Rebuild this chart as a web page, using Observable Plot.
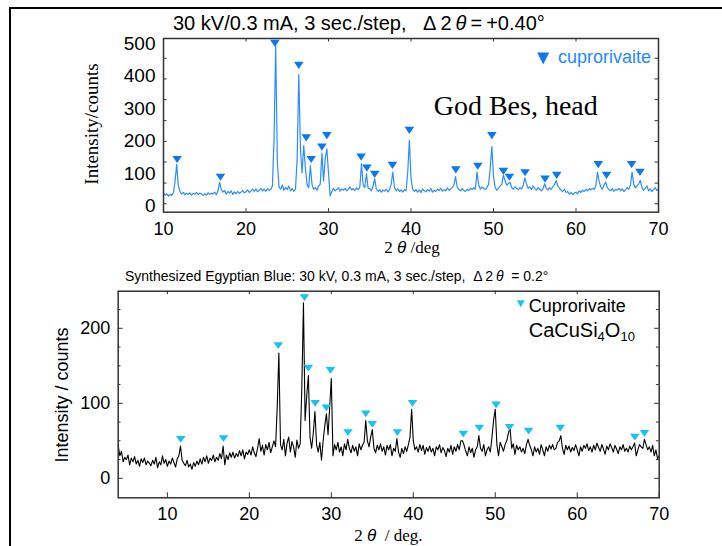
<!DOCTYPE html>
<html><head><meta charset="utf-8">
<script src="https://cdn.jsdelivr.net/npm/d3@7"></script>
<script src="https://cdn.jsdelivr.net/npm/@observablehq/plot@0.6"></script>
<style>
html,body{margin:0;padding:0;background:#fff;}
#wrap{position:relative;width:722px;height:546px;overflow:hidden;font-family:"Liberation Sans",Arial,sans-serif;color:#000;}
.t{position:absolute;white-space:nowrap;line-height:1;}
.serif{font-family:"Liberation Serif","Times New Roman",serif;}
.rot{transform:translate(-50%,-50%) rotate(-90deg);}
.cx{transform:translateX(-50%);}
#p1,#p2{position:absolute;left:0;}
#p1{top:0}#p2{top:262px}
</style></head><body>
<div id="wrap">
 <div id="p1"></div><div id="p2"></div>
 <div style="position:absolute;left:9px;top:6.5px;width:720px;height:545px;border-left:2.5px solid #000;border-top:2.5px solid #000;"></div>
 <div class="t" style="left:173px;top:13.1px;font-size:20px">30 kV/0.3 mA, 3 sec./step,&nbsp;&nbsp; Δ&thinsp;2&thinsp;<i>θ</i>&thinsp;=&thinsp;+0.40°</div>
 <div class="t serif rot" style="left:90.7px;top:123.5px;font-size:19px">Intensity/counts</div>
 <div class="t" style="right:71px;top:48.1px;font-size:18px;color:#1f88ff">cuprorivaite</div>
 <div class="t serif" style="left:433.7px;top:91.5px;font-size:28px">God Bes, head</div>
 <div class="t serif cx" style="left:412px;top:241.1px;line-height:0.8;font-size:17px">2 <i style="font-family:'Liberation Sans',Arial,sans-serif">θ</i> /deg</div>
 <div class="t" style="left:125px;top:268.9px;font-size:14px">Synthesized Egyptian Blue: 30 kV, 0.3 mA, 3 sec./step,&nbsp; Δ&thinsp;2&thinsp;<i>θ</i> &nbsp;= 0.2°</div>
 <div class="t rot" style="left:61.5px;top:395px;font-size:18px">Intensity / counts</div>
 <div class="t" style="left:528.7px;top:297.1px;font-size:18px">Cuprorivaite</div>
 <div class="t" style="left:528.7px;top:319.8px;font-size:20px">CaCuSi<span style="font-size:13px;vertical-align:-4px">4</span>O<span style="font-size:13px;vertical-align:-4px">10</span></div>
 <div class="t serif cx" style="left:388.5px;top:528.5px;line-height:0.8;font-size:17px">2 <i style="font-family:'Liberation Sans',Arial,sans-serif">θ</i> &nbsp;/ deg.</div>
</div>
<script>
// ---- data: scan grid ----
const step = 0.2;
const topStart = 10;
const botStart = 4;

// top panel: God Bes, head (counts at 10.0, 10.2, ... 70.0)
const topCounts = [
 33,27,31,24,29, 26,34,70,122,55, 38,30,35,28,33, 29,34,27,32,30, 35,28,33,30,26,
 31,27,34,29,33, 30,36,28,40,67, 45,36,41,30,38, 33,40,29,37,31, 38,32,36,41,34,
 37,43,35,40,45, 38,46,37,42,48, 40,45,38,47,42, 44,55,200,488,130, 52,45,58,42,50,
 44,55,40,47,38, 45,140,400,170,95, 180,110,60,50,118, 60,45,50,42,55, 60,157,70,140,170,
 95,25,38,48,40, 44,50,39,46,42, 48,40,45,52,43, 47,41,49,44,52, 124,58,50,93,48,
 47,40,55,77,45, 38,44,36,42,39, 45,37,44,60,98, 50,40,46,38,43, 36,44,40,95,196,
 80,45,38,44,36, 42,35,46,40,37, 44,39,47,36,42, 38,45,41,48,39, 44,40,49,42,46,
 50,58,84,52,44, 40,47,42,38,45, 41,48,44,50,45, 98,60,45,52,48, 44,50,60,110,177,
 85,50,42,48,55, 60,88,72,58,62, 67,50,45,52,48, 44,50,46,58,80, 62,48,52,44,55,
 48,42,50,45,40, 46,62,48,42,50, 45,52,60,72,55, 48,42,38,45,35, 38,30,35,28,33,
 36,31,40,35,42, 38,45,40,47,43, 48,44,55,98,70, 52,45,58,67,50, 44,40,47,38,45,
 42,48,40,46,38, 44,50,45,58,98, 60,50,55,62,72, 50,42,48,55,40, 46,38,44,50,41,
 45
];
const topPeakTheta = [11.65,16.9,23.5,26.4,27.3,27.9,29.2,29.8,33.95,34.65,35.6,37.75,39.8,45.43,48.1,49.8,51.2,51.93,53.83,56.25,57.66,62.7,63.7,66.74,67.75];
const topPeakMark  = [137,82,496,428,204,137,175,211,144,110,91,119,227,105,116,211,100,82,96,76,88,121,88,121,97];

// bottom panel: synthesized Egyptian Blue (counts at 4.0, 4.2, ... 70.0)
const botCounts = [
 44,30,36,22,28, 25,31,18,27,22, 29,19,24,16,26, 21,27,18,23,20, 17,24,19,28,14,
 22,18,30,20,25, 16,23,19,27,21, 15,26,30,43,24, 20,17,24,15,19, 12,21,16,23,18,
 26,19,28,22,30, 20,27,24,31,22, 28,24,33,26,43, 18,31,25,34,28, 35,27,33,29,37,
 30,38,26,35,32, 38,31,42,34,29, 40,53,36,44,31, 45,38,48,34,42, 50,42,95,167,45,
 38,52,30,47,55, 35,49,42,28,51, 40,46,120,234,77, 110,137,55,40,60, 89,45,35,48,24,
 50,70,86,58,95, 133,30,45,38,48, 35,42,30,46,38, 52,40,34,44,36, 42,30,46,38,44,
 48,77,50,42,55, 65,40,34,44,38, 46,36,42,31,44, 38,45,30,40,36, 53,35,28,40,33,
 42,36,45,55,92, 50,38,42,35,45, 37,44,32,41,36, 43,35,40,30,42, 38,45,34,41,37,
 29,40,35,44,32, 42,36,45,38,50, 50,44,36,30,42, 34,40,28,38,42, 57,40,36,45,30,
 38,42,35,55,78, 92,45,30,48,42, 36,45,50,60,68, 40,46,32,44,38, 42,35,40,33,45,
 52,44,38,30,42, 35,40,32,45,38, 30,42,36,44,39, 45,38,40,48,50, 57,40,32,44,38,
 43,35,41,37,45, 38,30,42,36,44, 40,46,37,42,35, 44,38,47,41,36, 45,39,32,43,38,
 46,41,35,44,39, 33,42,38,45,36, 40,35,43,38,42, 47,30,38,45,42, 40,52,45,38,42,
 35,44,30,38,26, 30
];
const botPeakTheta = [11.63,16.85,23.53,26.72,27.2,28.03,29.4,29.9,32.03,34.2,35.0,38.06,39.9,46.1,48.06,50.1,51.74,54.06,57.93,67.03,68.2];
const botPeakMark  = [52,53,177,241,147,100,94,144,61,86,72,61,100,59,67,98,68,63,67,55,60];

// ticks
const topXTicks = [10,20,30,40,50,60,70];
const topYLabels = [0,100,200,300,400,500];
const topYTickMarks = [0,64,129,193,257,322,386,450];
const botXTicks = [10,20,30,40,50,60,70];
const botYLabels = [0,100,200];
const botYMinor = [25,50,75,125,150,175,225];

// ---- build ----
const topData = topCounts.map((c,i)=>({theta: topStart + i*step, counts: c}));
const botData = botCounts.map((c,i)=>({theta: botStart + i*step, counts: c}));
const topPeaks = topPeakTheta.map((t,i)=>({theta:t, mark:topPeakMark[i]}));
const botPeaks = botPeakTheta.map((t,i)=>({theta:t, mark:botPeakMark[i]}));

function triDown(hw, hh){
  return {draw(ctx){ ctx.moveTo(-hw,-hh); ctx.lineTo(hw,-hh); ctx.lineTo(0,hh); ctx.closePath(); }};
}
const sans = '"Liberation Sans", Arial, sans-serif';
const W = 722;
const axisColor = "#333";

// top plot
const H1=262, mt1=38, mb1=50.3, ml1=163, mr1=64;
const ih1=H1-mt1-mb1, iw1=W-ml1-mr1;
const lineBlue="#2a8dff", markBlue="#0b78f0";
const p1 = Plot.plot({
  width:W, height:H1, marginTop:mt1, marginBottom:mb1, marginLeft:ml1, marginRight:mr1,
  style:{fontFamily:sans, fontSize:"18px", background:"transparent", overflow:"visible", color:"#000"},
  x:{domain:[10,70]}, y:{domain:[-26,511]},
  marks:[
    Plot.line(topData,{x:"theta",y:"counts",stroke:lineBlue,strokeWidth:1.2}),
    Plot.dot(topPeaks,{x:"theta",y:"mark",symbol:triDown(4.8,3.6),r:1,fill:markBlue,stroke:"none"}),
    Plot.tickX(topXTicks,{insetTop:ih1-3.5,stroke:axisColor}),
    Plot.tickX(topXTicks,{insetBottom:ih1-3.5,stroke:axisColor}),
    Plot.tickY(topYTickMarks,{insetRight:iw1-3.5,stroke:axisColor}),
    Plot.tickY(topYTickMarks,{insetLeft:iw1-3.5,stroke:axisColor}),
    Plot.frame({stroke:axisColor,strokeWidth:1.5}),
    Plot.axisX(topXTicks,{tickSize:0,tickPadding:10,fontSize:18,label:null}),
    Plot.axisY(topYLabels,{tickSize:0,tickPadding:8,fontSize:19,dy:2,label:null}),
    Plot.dot([0],{x:null,y:null,frameAnchor:"top-right",dx:-115.3,dy:20,symbol:triDown(6,6),r:1,fill:markBlue,stroke:"none"})
  ]
});
document.getElementById("p1").appendChild(p1);

// bottom plot
const H2=284, mt2=28.7, mb2=48.7, ml2=117.7, mr2=63.3;
const ih2=H2-mt2-mb2, iw2=W-ml2-mr2;
const cyan="#1ac2f2";
const p2 = Plot.plot({
  width:W, height:H2, marginTop:mt2, marginBottom:mb2, marginLeft:ml2, marginRight:mr2,
  style:{fontFamily:sans, fontSize:"18px", background:"transparent", overflow:"visible", color:"#000"},
  x:{domain:[4,70]}, y:{domain:[-26,249.5]},
  marks:[
    Plot.line(botData,{x:"theta",y:"counts",stroke:"#000",strokeWidth:1.1}),
    Plot.dot(botPeaks,{x:"theta",y:"mark",symbol:triDown(4.8,3.4),r:1,fill:cyan,stroke:"none"}),
    Plot.tickX(botXTicks,{insetTop:ih2-5,stroke:axisColor}),
    Plot.tickX(botXTicks,{insetBottom:ih2-3.5,stroke:axisColor}),
    Plot.tickY(botYLabels,{insetRight:iw2-5,stroke:axisColor}),
    Plot.tickY(botYMinor,{insetRight:iw2-2.8,stroke:axisColor}),
    Plot.tickY(botYLabels,{insetLeft:iw2-4.5,stroke:axisColor}),
    Plot.tickY(botYMinor,{insetLeft:iw2-2.8,stroke:axisColor}),
    Plot.frame({stroke:axisColor,strokeWidth:1.5}),
    Plot.axisX(botXTicks,{tickSize:0,tickPadding:9.5,fontSize:18,label:null}),
    Plot.axisY(botYLabels,{tickSize:0,tickPadding:8,fontSize:18,label:null}),
    Plot.dot([0],{x:null,y:null,frameAnchor:"top-right",dx:-138.4,dy:12.6,symbol:triDown(4,3.5),r:1,fill:cyan,stroke:"none"})
  ]
});
document.getElementById("p2").appendChild(p2);
</script>
</body></html>
